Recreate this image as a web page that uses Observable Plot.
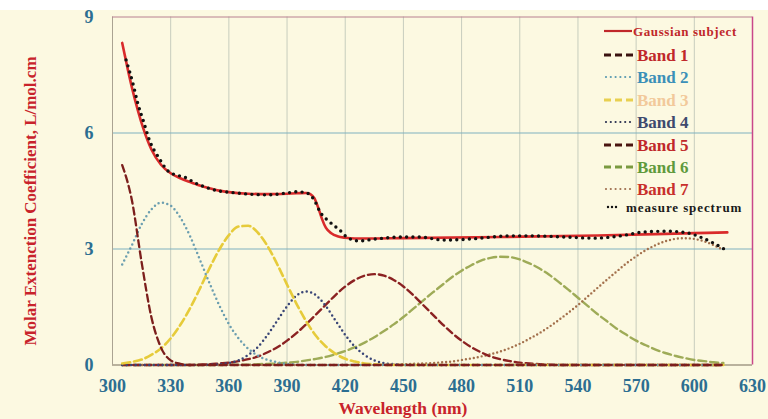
<!DOCTYPE html>
<html><head><meta charset="utf-8">
<script src="https://cdn.jsdelivr.net/npm/d3@7"></script>
<script src="https://cdn.jsdelivr.net/npm/@observablehq/plot@0.6"></script>
<style>
html,body{margin:0;padding:0;background:#fff;}
#wrap{position:absolute;left:0;top:10px;width:768px;height:409px;background:#fcf9e1;}
</style></head><body><div id="wrap"></div>
<script>
// ---- data ----
const xTicks = [300,330,360,390,420,450,480,510,540,570,600,630];
const yTicks = [0,3,6,9];
const xGrid = [330,360,390,420,450,480,510,540,570,600];
const yGrid = [3,6];

const wavelengths = [305,310,315,320,325,330,335,340,345,350,
  355,360,365,370,375,380,385,390,395,400,
  405,410,415,420,425,430,435,440,445,450,
  455,460,465,470,475,480,485,490,495,500,
  505,510,515,520,525,530,535,540,545,550,
  555,560,565,570,575,580,585,590,595,600,
  605,610,615];

const band1 = [5.17,4.26,2.66,1.25,0.45,0.12,0.03,0,0,0,
  0,0,0,0,0,0,0,0,0,0,
  0,0,0,0,0,0,0,0,0,0,
  0,0,0,0,0,0,0,0,0,0,
  0,0,0,0,0,0,0,0,0,0,
  0,0,0,0,0,0,0,0,0,0,
  0,0,0];
const band2 = [2.6,3.10,3.64,4.02,4.20,4.12,3.81,3.33,2.73,2.12,
  1.55,1.06,0.69,0.42,0.24,0.13,0.07,0.03,0.01,0,
  0,0,0,0,0,0,0,0,0,0,
  0,0,0,0,0,0,0,0,0,0,
  0,0,0,0,0,0,0,0,0,0,
  0,0,0,0,0,0,0,0,0,0,
  0,0,0];
const band3 = [0.04,0.08,0.14,0.26,0.43,0.69,1.04,1.47,1.97,2.50,
  2.98,3.36,3.58,3.60,3.42,3.07,2.60,2.08,1.57,1.12,
  0.75,0.48,0.29,0.16,0.09,0.04,0.02,0,0,0,
  0,0,0,0,0,0,0,0,0,0,
  0,0,0,0,0,0,0,0,0,0,
  0,0,0,0,0,0,0,0,0,0,
  0,0,0];
const band4 = [0,0,0,0,0,0,0,0,0,0.01,
  0.02,0.05,0.12,0.26,0.47,0.78,1.15,1.52,1.80,1.90,
  1.80,1.52,1.15,0.78,0.47,0.26,0.12,0.05,0.02,0,
  0,0,0,0,0,0,0,0,0,0,
  0,0,0,0,0,0,0,0,0,0,
  0,0,0,0,0,0,0,0,0,0,
  0,0,0];
const band5 = [0,0,0,0,0,0,0,0,0.01,0.02,
  0.04,0.06,0.10,0.15,0.22,0.33,0.46,0.63,0.83,1.06,
  1.31,1.56,1.81,2.03,2.20,2.31,2.35,2.31,2.20,2.03,
  1.81,1.56,1.31,1.06,0.83,0.63,0.46,0.33,0.22,0.15,
  0.10,0.06,0.04,0.02,0.01,0,0,0,0,0,
  0,0,0,0,0,0,0,0,0,0,
  0,0,0];
const band6 = [0,0,0,0,0,0,0,0,0,0,
  0,0.01,0.01,0.01,0.02,0.03,0.04,0.06,0.08,0.12,
  0.16,0.21,0.28,0.36,0.46,0.58,0.72,0.88,1.05,1.24,
  1.45,1.66,1.87,2.07,2.27,2.44,2.58,2.70,2.77,2.80,
  2.79,2.73,2.63,2.50,2.34,2.15,1.95,1.74,1.53,1.32,
  1.13,0.94,0.78,0.63,0.51,0.40,0.31,0.24,0.18,0.13,
  0.10,0.07,0.05];
const band7 = [0,0,0,0,0,0,0,0,0,0,
  0,0,0,0,0,0,0,0,0,0,
  0,0,0,0,0,0,0,0.01,0.01,0.02,
  0.03,0.04,0.05,0.07,0.09,0.13,0.17,0.22,0.28,0.35,
  0.44,0.55,0.68,0.82,0.98,1.16,1.35,1.55,1.77,1.99,
  2.21,2.42,2.63,2.81,2.97,3.10,3.20,3.26,3.28,3.26,
  3.20,3.10,2.97];

const gaussWl  = [305,308,310,313,316,320,325,330,335,340,345,350,355,360,370,380,390,395,400,402,404,406,408,410,413,416,420,425,430,450,500,550,600,617];
const gaussVal = [8.33,7.62,7.18,6.6,6.1,5.58,5.18,4.96,4.83,4.73,4.64,4.57,4.51,4.47,4.43,4.42,4.43,4.44,4.45,4.42,4.32,4.08,3.78,3.55,3.40,3.33,3.29,3.27,3.27,3.28,3.31,3.35,3.41,3.43];

const measWl  = [307,311,313,316,319,324,329,334,337,343,349,355,360,370,380,390,395,400,404,407,412,418,421,427,436,448,458,471,485,505,516,533,548,562,574,586,597,603,610,617];
const measVal = [7.89,7.19,6.77,6.3,5.82,5.35,5.0,4.9,4.86,4.7,4.58,4.5,4.47,4.42,4.4,4.45,4.48,4.45,4.27,3.96,3.7,3.45,3.3,3.21,3.26,3.31,3.31,3.23,3.26,3.34,3.34,3.31,3.28,3.34,3.44,3.46,3.41,3.31,3.15,2.95];

const legendLabels = ["Gaussian subject","Band 1","Band 2","Band 3","Band 4","Band 5","Band 6","Band 7","measure spectrum"];

// ---- build ----
const rows = wavelengths.map((w,i)=>({w, b1:band1[i], b2:band2[i], b3:band3[i], b4:band4[i], b5:band5[i], b6:band6[i], b7:band7[i]}));
const gRows = gaussWl.map((w,i)=>({w, v:gaussVal[i]}));
const mRows = measWl.map((w,i)=>({w, v:measVal[i]}));

const styles = {
  b1:{stroke:"#7c1f1c", strokeWidth:2.3, strokeDasharray:"7 4"},
  b2:{stroke:"#6c9fb0", strokeWidth:2.5, strokeDasharray:"0 4.5", strokeLinecap:"round"},
  b3:{stroke:"#e6cb3a", strokeWidth:2.6, strokeDasharray:"8 4"},
  b4:{stroke:"#3a4677", strokeWidth:2.5, strokeDasharray:"0 4.5", strokeLinecap:"round"},
  b5:{stroke:"#8b2222", strokeWidth:2.4, strokeDasharray:"7 4"},
  b6:{stroke:"#9eab57", strokeWidth:2.4, strokeDasharray:"8 4"},
  b7:{stroke:"#a3704c", strokeWidth:2.4, strokeDasharray:"0 4", strokeLinecap:"round"}
};

const bandMarks = ["b6","b7","b5","b4","b3","b2","b1"].map(k =>
  Plot.line(rows, {x:"w", y:k, curve:"monotone-x", ...styles[k]}));

const chart = Plot.plot({
  width:768, height:409,
  marginTop:6.5, marginBottom:54.5, marginLeft:112, marginRight:16,
  style:{background:"transparent", fontFamily:"'Liberation Serif', serif", overflow:"visible"},
  x:{domain:[300,630]},
  y:{domain:[0,9]},
  marks:[
    Plot.gridX(xGrid, {stroke:"#c7cdbd", strokeOpacity:1}),
    Plot.gridY(yGrid, {stroke:"#7fb1bf", strokeOpacity:1}),
    Plot.ruleX([300], {stroke:"#aaa392"}),
    Plot.ruleX([630], {stroke:"#c9478a", strokeWidth:1.5}),
    Plot.ruleY([0], {stroke:"#a39a86", strokeWidth:1.3}),
    Plot.ruleY([9], {stroke:"#b88090"}),
    ...bandMarks,
    Plot.line(gRows, {x:"w", y:"v", curve:"monotone-x", stroke:"#d92b2b", strokeWidth:2.6}),
    Plot.line(mRows, {x:"w", y:"v", curve:"monotone-x", stroke:"#111", strokeWidth:3.4, strokeDasharray:"0 6.3", strokeLinecap:"round"}),
    Plot.axisX(xTicks, {tickSize:0, tickPadding:14, fontSize:18, fill:"#2c6e91", fontWeight:"bold", label:null}),
    Plot.axisY(yTicks, {tickSize:0, tickPadding:19, fontSize:18, fill:"#2c6e91", fontWeight:"bold", label:null})
  ]
});
document.getElementById("wrap").appendChild(chart);

const svg = d3.select(chart);
svg.selectAll('g[aria-label$="tick label"] text').attr("font-weight","bold");

// axis titles
svg.append("text").attr("transform","translate(36,191) rotate(-90)")
  .attr("text-anchor","middle").attr("font-size",17).attr("font-weight","bold")
  .attr("fill","#c8232b").text("Molar Extenction Coefficient, L/mol.cm");
svg.append("text").attr("x",403).attr("y",404)
  .attr("text-anchor","middle").attr("font-size",17.5).attr("font-weight","bold")
  .attr("fill","#c8232b").text("Wavelength (nm)");

// legend
const legendCfg = [
  {y:21, tx:633, fs:13, ls:0.6, col:"#c0282a", line:{x1:604,x2:632,stroke:"#c0282a",w:2.2,dash:null}},
  {y:45, tx:637, fs:17, ls:0, col:"#c0282a", line:{x1:604,x2:634,stroke:"#3a1210",w:2.8,dash:"7 4"}},
  {y:67, tx:637, fs:17, ls:0, col:"#3b90b8", line:{x1:606,x2:634,stroke:"#5a9ab0",w:2.2,dash:"0 4.8",cap:"round"}},
  {y:90, tx:637, fs:17, ls:0, col:"#f2c99b", line:{x1:604,x2:634,stroke:"#e8d050",w:2.8,dash:"7 4"}},
  {y:112, tx:637, fs:17, ls:0, col:"#3e4a6e", line:{x1:606,x2:634,stroke:"#2a3050",w:2.2,dash:"0 4.8",cap:"round"}},
  {y:135, tx:637, fs:17, ls:0, col:"#c0282a", line:{x1:604,x2:634,stroke:"#4a1510",w:2.8,dash:"7 4"}},
  {y:157, tx:637, fs:17, ls:0, col:"#5f9a3c", line:{x1:604,x2:634,stroke:"#7a9a40",w:2.8,dash:"7 4"}},
  {y:179, tx:637, fs:17, ls:0, col:"#c8302c", line:{x1:606,x2:634,stroke:"#a07050",w:2.2,dash:"0 4.8",cap:"round"}},
  {y:197, tx:626, fs:13, ls:0.9, col:"#1a1a1a", line:{x1:608,x2:620,stroke:"#111",w:2.4,dash:"0 4",cap:"round"}}
];
const lg = svg.append("g").attr("text-anchor","start");
legendLabels.forEach((lab,i)=>{
  const c = legendCfg[i];
  const ln = lg.append("line").attr("x1",c.line.x1).attr("x2",c.line.x2)
    .attr("y1",c.y).attr("y2",c.y).attr("stroke",c.line.stroke).attr("stroke-width",c.line.w);
  if (c.line.dash) ln.attr("stroke-dasharray",c.line.dash);
  if (c.line.cap) ln.attr("stroke-linecap",c.line.cap);
  lg.append("text").attr("x",c.tx).attr("y",c.y).attr("dy","0.35em")
    .attr("text-anchor","start")
    .attr("font-size",c.fs).attr("font-weight","bold").attr("letter-spacing",c.ls)
    .attr("fill",c.col).text(lab);
});
</script></body></html>
